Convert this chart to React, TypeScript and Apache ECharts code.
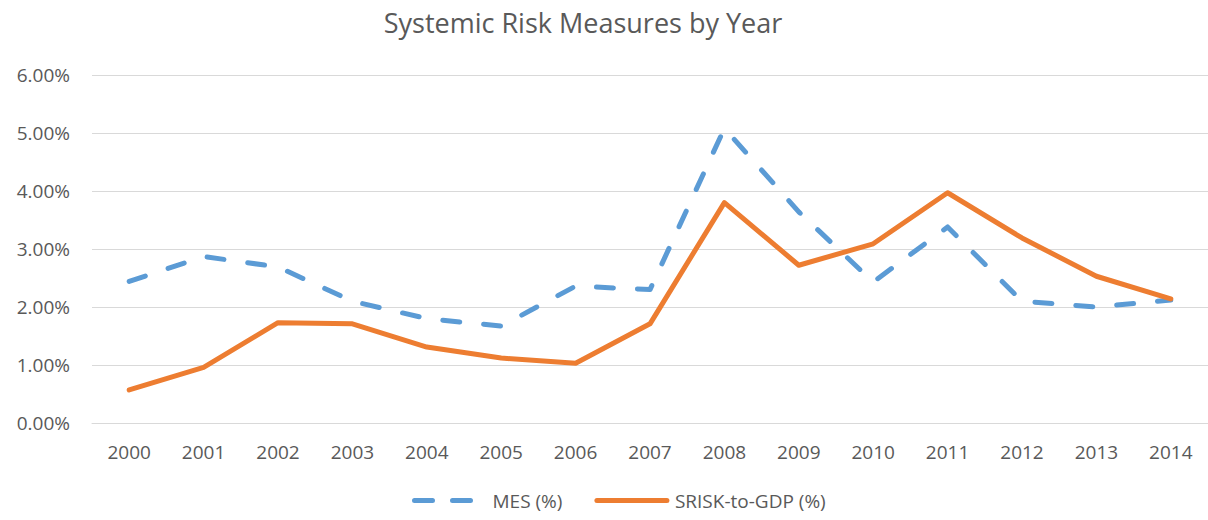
import React, { useEffect, useRef } from "react";
import * as echarts from "echarts";

const years = ["2000","2001","2002","2003","2004","2005","2006","2007","2008","2009","2010","2011","2012","2013","2014"];
const mes = [2.44, 2.87, 2.69, 2.10, 1.80, 1.67, 2.36, 2.30, 5.08, 3.64, 2.43, 3.38, 2.10, 2.00, 2.12];
const srisk = [0.57, 0.96, 1.73, 1.71, 1.31, 1.12, 1.03, 1.71, 3.80, 2.72, 3.09, 3.97, 3.19, 2.53, 2.14];
const yTicks = { min: 0, max: 6, interval: 1 };

const FONT = "'Open Sans', 'Noto Sans', sans-serif";
const GRAY = "#595959";
const BLUE = "#5B9BD5";
const ORANGE = "#ED7D31";
const DASH = [17, 24];

export default function App() {
  const ref = useRef<HTMLDivElement>(null);
  useEffect(() => {
    if (!ref.current) return;
    const chart = echarts.init(ref.current, undefined, { renderer: "svg" });
    chart.setOption({
      animation: false,
      backgroundColor: "#ffffff",
      title: {
        text: "Systemic Risk Measures by Year",
        left: 578,
        textAlign: "center",
        top: 4,
        textStyle: { fontFamily: FONT, fontSize: 27, fontWeight: "normal", color: GRAY },
      },
      legend: {
        top: 486,
        left: 407,
        itemWidth: 70,
        itemHeight: 20,
        itemGap: 32,
        textStyle: { fontFamily: FONT, fontSize: 19, color: GRAY, padding: [0, 0, 0, 3] },
        itemStyle: { opacity: 0 },
        data: [
          { name: "MES (%)", lineStyle: { color: BLUE, width: 5, type: [18, 20], cap: "round" } },
          { name: "SRISK-to-GDP (%)", lineStyle: { color: ORANGE, width: 5, cap: "round" } },
        ],
      },
      grid: { left: 92, top: 75, width: 1122, height: 348 },
      xAxis: {
        type: "category",
        data: years,
        boundaryGap: true,
        axisLine: { show: true, lineStyle: { color: "#D9D9D9", width: 1 } },
        axisTick: { show: false },
        axisLabel: { fontFamily: FONT, fontSize: 19, color: GRAY, margin: 19 },
      },
      yAxis: {
        type: "value",
        min: yTicks.min,
        max: yTicks.max,
        interval: yTicks.interval,
        axisLine: { show: false },
        axisTick: { show: false },
        axisLabel: {
          fontFamily: FONT,
          fontSize: 19,
          color: GRAY,
          margin: 22,
          formatter: (v: number) => v.toFixed(2) + "%",
        },
        splitLine: { lineStyle: { color: "#D9D9D9", width: 1 } },
      },
      series: [
        {
          name: "MES (%)",
          type: "line",
          data: mes,
          symbol: "none",
          color: BLUE,
          lineStyle: { color: BLUE, width: 5, type: DASH, cap: "round", join: "round" },
        },
        {
          name: "SRISK-to-GDP (%)",
          type: "line",
          data: srisk,
          symbol: "none",
          color: ORANGE,
          lineStyle: { color: ORANGE, width: 5, cap: "round", join: "round" },
        },
      ],
    });
    return () => chart.dispose();
  }, []);
  return (
    <div
      ref={ref}
      style={{ position: "absolute", left: 0, top: 0, width: 1208, height: 520, background: "#fff" }}
    />
  );
}
